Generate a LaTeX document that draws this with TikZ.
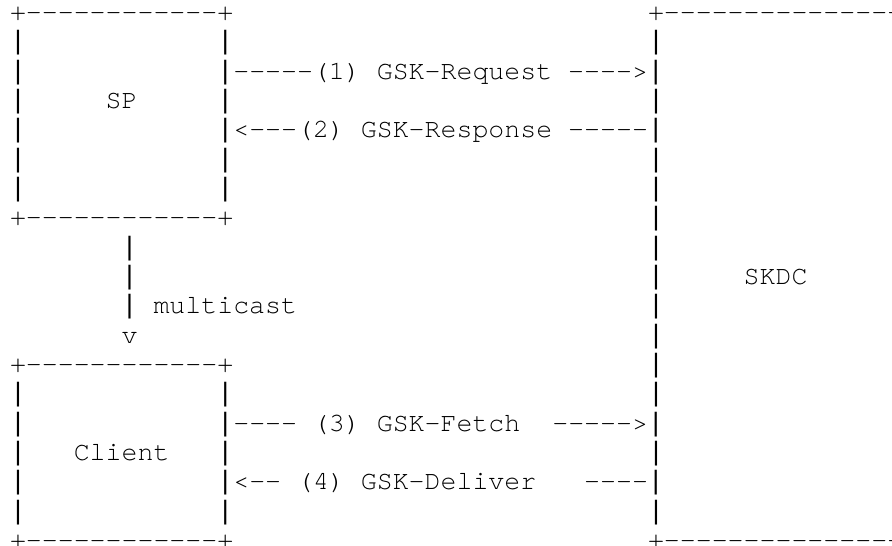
\documentclass[tikz,border=0pt]{standalone}
\usepackage{fontspec}
\setmonofont{TeX Gyre Cursor}
% long vertical bar from a second monospace face of the same width
\newfontfamily\barface{Liberation Mono}
\newcommand\vb{{\barface|}}
\begin{document}
% Character-cell diagram: one column = 15.95pt, one row = 29.33pt
\begin{tikzpicture}[x=15.95pt, y=-29.33pt,
  txt/.style={anchor=base west, inner sep=0pt, outer sep=0pt,
    font=\ttfamily\fontsize{26.58pt}{29.33pt}\selectfont}]
\useasboundingbox (0pt,0pt) rectangle (892pt,-546pt);
\fill[white] (0pt,0pt) rectangle (892pt,-546pt);
\clip (0pt,0pt) rectangle (892pt,-546pt);
\begin{scope}[shift={(10pt,-20.5pt)}]
  % SP box
  \node[txt] (spTop) at (0,0) {+------------+};
  \foreach \r in {1,...,6} {
    \node[txt] (spL\r) at (0,\r) {\vb};
  }
  \foreach \r in {1,3,5,6} {
    \node[txt] (spR\r) at (13,\r) {\vb};
  }
  \node[txt] (spLabel) at (6,3) {SP};
  \node[txt] (spBot) at (0,7) {+------------+};

  % SP <-> SKDC exchange
  \node[txt] (req)  at (13,2) {\vb-----(1) GSK-Request ---->\vb};
  \node[txt] (resp) at (13,4) {\vb<---(2) GSK-Response -----\vb};

  % multicast from SP to Client
  \node[txt] (mc1) at (7,8) {\vb};
  \node[txt] (mc2) at (7,9) {\vb};
  \node[txt] (mc3) at (7,10) {\vb};
  \node[txt] (mcLabel) at (9,10) {multicast};
  \node[txt] (mcHead) at (7,11) {v};

  % Client box
  \node[txt] (clTop) at (0,12) {+------------+};
  \foreach \r in {13,...,17} {
    \node[txt] (clL\r) at (0,\r) {\vb};
  }
  \foreach \r in {13,15,17} {
    \node[txt] (clR\r) at (13,\r) {\vb};
  }
  \node[txt] (clLabel) at (4,15) {Client};
  \node[txt] (clBot) at (0,18) {+------------+};

  % Client <-> SKDC exchange
  \node[txt] (fetch)       at (13,14) {\vb---- (3) GSK-Fetch};
  \node[txt] (fetchArr)    at (34,14) {----->\vb};
  \node[txt] (deliver)     at (13,16) {\vb<-- (4) GSK-Deliver};
  \node[txt] (deliverTail) at (36,16) {----\vb};

  % SKDC box
  \node[txt] (skTop) at (40,0) {+---------------};
  \foreach \r in {1,3,5,6,7,8,9,10,11,12,13,15,17} {
    \node[txt] (skL\r) at (40,\r) {\vb};
  }
  \node[txt] (skLabel) at (46,9) {SKDC};
  \node[txt] (skBot) at (40,18) {+---------------};
\end{scope}
\end{tikzpicture}
\end{document}
